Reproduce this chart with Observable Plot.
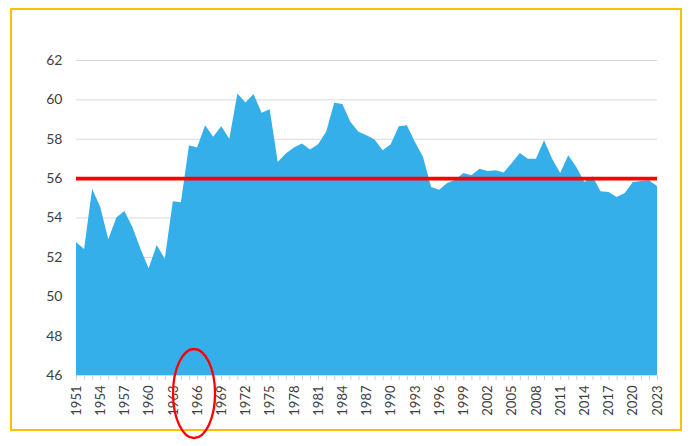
<!DOCTYPE html>
<html>
<head>
<meta charset="utf-8">
<script src="https://cdn.jsdelivr.net/npm/d3@7"></script>
<script src="https://cdn.jsdelivr.net/npm/@observablehq/plot@0.6"></script>
<style>
  html, body { margin: 0; padding: 0; background: #fff; }
  #wrap { position: relative; width: 698px; height: 446px; overflow: hidden; }
  #frame { position: absolute; left: 10px; top: 8px; width: 668px; height: 419px;
           border: 2.5px solid #FFC000; box-sizing: content-box; }
  #chart { position: absolute; left: 0; top: 0; }
  #chart svg { background: transparent; }
</style>
</head>
<body>
<div id="wrap">
  <div id="frame"></div>
  <div id="chart"></div>
</div>
<script>
const years = [1951,1952,1953,1954,1955,1956,1957,1958,1959,1960,
  1961,1962,1963,1964,1965,1966,1967,1968,1969,1970,
  1971,1972,1973,1974,1975,1976,1977,1978,1979,1980,
  1981,1982,1983,1984,1985,1986,1987,1988,1989,1990,
  1991,1992,1993,1994,1995,1996,1997,1998,1999,2000,
  2001,2002,2003,2004,2005,2006,2007,2008,2009,2010,
  2011,2012,2013,2014,2015,2016,2017,2018,2019,2020,
  2021,2022,2023];
const values = [52.75,52.4,55.46,54.53,52.9,54.0,54.33,53.5,52.4,51.42,
  52.6,51.9,54.82,54.78,57.67,57.55,58.69,58.1,58.64,58.0,
  60.3,59.84,60.27,59.32,59.5,56.82,57.25,57.55,57.76,57.45,
  57.72,58.35,59.83,59.76,58.86,58.35,58.18,57.96,57.42,57.72,
  58.64,58.69,57.84,57.08,55.55,55.41,55.75,55.92,56.26,56.14,
  56.48,56.36,56.4,56.28,56.77,57.28,56.99,56.99,57.93,56.99,
  56.26,57.16,56.57,55.8,56.09,55.33,55.29,55.04,55.24,55.8,
  55.85,55.89,55.6];
const referenceLevel = [56];
const xTickLabels = [1951,1954,1957,1960,1963,1966,1969,1972,1975,1978,1981,1984,
  1987,1990,1993,1996,1999,2002,2005,2008,2011,2014,2017,2020,2023];
const yTicks = [46,48,50,52,54,56,58,60,62];
const highlightedYear = [1966];

const data = years.map((y, i) => ({year: y, value: values[i]}));

// custom mark: ellipse around a highlighted tick label
function ellipseMark(yearList) {
  return (index, scales, values, dims) => {
    const g = d3.create("svg:g");
    for (const yr of yearList) {
      g.append("ellipse")
        .attr("cx", scales.x(yr) - 3)
        .attr("cy", dims.height - dims.marginBottom + 18.5)
        .attr("rx", 21)
        .attr("ry", 44.5)
        .attr("fill", "none")
        .attr("stroke", "#FF0000")
        .attr("stroke-width", 2.3);
    }
    return g.node();
  };
}

const chart = Plot.plot({
  width: 698,
  height: 446,
  marginLeft: 76,
  marginRight: 41,
  marginTop: 60,
  marginBottom: 71,
  style: {background: "transparent", fontFamily: "Lato, 'Open Sans', sans-serif", color: "#404040"},
  x: {domain: [1951, 2023]},
  y: {domain: [46, 62]},
  marks: [
    Plot.gridY(yTicks, {stroke: "#d9d9d9", strokeOpacity: 1, strokeWidth: 1}),
    Plot.areaY(data, {x: "year", y1: 46, y2: "value", fill: "#35AFEA"}),
    Plot.ruleY([46], {stroke: "#d9d9d9", strokeWidth: 1}),
    Plot.ruleY(referenceLevel, {x1: 1951, x2: 2023, stroke: "#FF0000", strokeWidth: 3.6}),
    Plot.axisY(yTicks, {tickSize: 0, tickPadding: 14, fontSize: 14, fill: "#404040", label: null}),
    Plot.axisX(years, {tickSize: 5, stroke: "#d0d0d0", tickFormat: () => "", label: null}),
    Plot.axisX(xTickLabels, {tickSize: 0, tickPadding: 10, tickRotate: -90, fontSize: 13,
      fill: "#404040", tickFormat: d => String(d), label: null}),
    ellipseMark(highlightedYear)
  ]
});
document.getElementById("chart").appendChild(chart);
</script>
</body>
</html>
